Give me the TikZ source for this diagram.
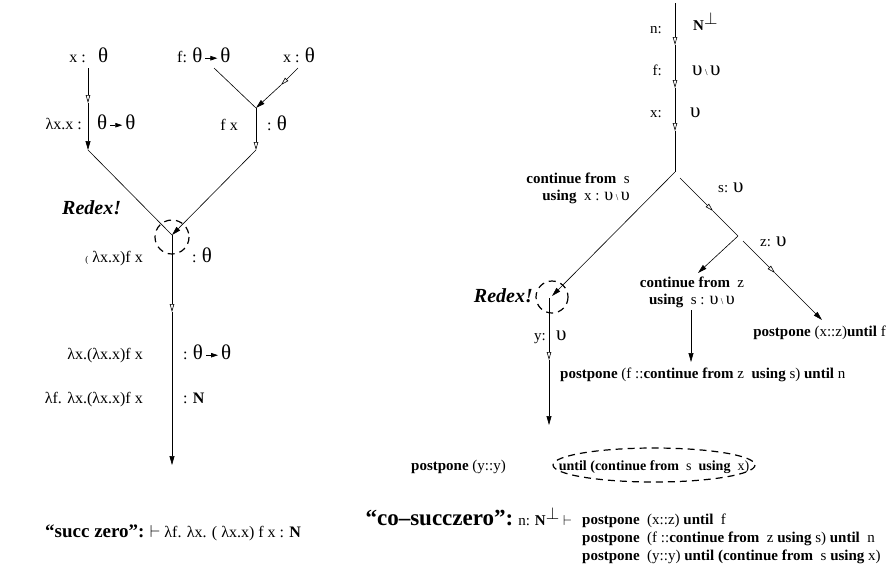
\documentclass[tikz,border=0pt]{standalone}
\usepackage{fontspec}
\setmainfont{Liberation Serif}
\usetikzlibrary{arrows.meta}
\newcommand{\bth}{{\fontsize{21}{21}\selectfont θ}}
\newcommand{\bup}{{\fontsize{21}{21}\selectfont υ}}
\newcommand{\mup}{{\fontsize{18}{16}\selectfont υ}}
\newcommand{\tarr}{\tikz[baseline=-3.8pt]\draw[line width=0.7pt,-{Triangle[length=7pt,width=4.5pt]}](0pt,0pt)--(12pt,0pt);}
\newcommand{\thto}{\bth\,\tarr\,\bth}
\newcommand{\uu}{\bup\,{\small\textbackslash}\,\bup}
\newcommand{\muu}{\mup\,{\small\textbackslash}\,\mup}
\newcommand{\Nperp}{\textbf{N}\raisebox{6pt}{\fontsize{18}{18}\selectfont$\perp$}}
\begin{document}
\begin{tikzpicture}[x=1pt,y=-1pt,
  every node/.style={inner sep=0pt, font=\fontsize{15}{18}\selectfont},
  lft/.style={font=\fontsize{16}{18}\selectfont},
  elt/.style={font=\fontsize{14}{16}\selectfont},
  two/.style={font=\fontsize{15}{17}\selectfont},
  redex/.style={font=\fontsize{20}{20}\selectfont\bfseries\itshape},
  ln/.style={line width=0.6pt},
  ot/.style={-{Triangle[open,length=8pt,width=4.5pt]}},
  ft/.style={-{Triangle[length=9pt,width=5pt]}},
  dsh/.style={line width=1.2pt, dash pattern=on 7pt off 5pt}]
\useasboundingbox (0,0) rectangle (890,579);
% ---------------- left tree ----------------
\node[lft,anchor=base east] (lx) at (86,62) {x :};
\node[lft,anchor=base west] (lxt) at (98,62) {\bth};
\node[lft,anchor=base east] (lid) at (82,129) {λx.x :};
\node[lft,anchor=base west] (lidt) at (97,129) {\thto};
\node[lft,anchor=base west] (lf) at (177,62) {f: \thto};
\node[lft,anchor=base west] (lx2) at (283,62) {x : \bth};
\node[lft,anchor=base east] (lfx) at (238,130) {f x};
\node[lft,anchor=base west] (lfxt) at (267,130) {: \bth};
\node[redex,anchor=base west] (lred) at (62,214) {Redex!};
\node[lft,anchor=base east] (lapp) at (143,262) {{\small(} λx.x)f x};
\node[lft,anchor=base west] (lappt) at (192,262) {: \bth};
\node[lft,anchor=base east] (labs) at (143,359) {λx.(λx.x)f x};
\node[lft,anchor=base west] (labst) at (183,359) {: \thto};
\node[lft,anchor=base east] (labs2) at (143,403) {λf. λx.(λx.x)f x};
\node[lft,anchor=base west] (labs2t) at (183,403) {: \textbf{N}};
\node[lft,anchor=base west] (lsz) at (45,537) {{\fontsize{19}{19}\selectfont\bfseries ``succ zero'':} $\vdash$ λf. λx. ( λx.x) f x : \textbf{N}};
\coordinate (a1) at (88,68);
\coordinate (a2) at (88,103);
\coordinate (a3) at (88,150);
\coordinate (j1) at (172,235);
\coordinate (b1) at (214,68);
\coordinate (c1) at (298,68);
\coordinate (c2) at (281,85);
\coordinate (b2) at (256,108);
\coordinate (b3) at (256,150);
\coordinate (d2) at (172,312);
\coordinate (d3) at (172,465);
\draw[ln,ot] (a1) -- (a2);
\draw[ln,ft] (a2) -- (a3);
\draw[ln] (a3) -- (j1);
\draw[ln] (b1) -- (b2);
\draw[ln,ot] (c1) -- (c2);
\draw[ln,ft] (c2) -- (b2);
\draw[ln,ot] (b2) -- (b3);
\draw[ln,ft] (b3) -- (j1);
\draw[ln,ot] (j1) -- (d2);
\draw[ln,ft] (d2) -- (d3);
\draw[dsh] (172,237) circle (17);
% ---------------- right tree ----------------
\node[anchor=base east] (rn) at (662,33) {n:};
\node[anchor=base west] (rnt) at (693,30) {\Nperp};
\node[anchor=base east] (rf) at (662,75) {f:};
\node[anchor=base west] (rft) at (692,75) {\uu};
\node[anchor=base east] (rx) at (662,117) {x:};
\node[anchor=base west] (rxt) at (690,117) {\bup};
\node[two,anchor=base east, align=right] (rcs) at (630,200) {\textbf{continue from}\ \ s\\\textbf{using}\ \ x : \muu};
\node[anchor=base west] (rs) at (718,192) {s: \bup};
\node[anchor=base west] (rz) at (760,246) {z: \bup};
\node[two,anchor=base, align=center] (rcz) at (692,304) {\textbf{continue from}\ \ z\\\textbf{using}\ \ s : \muu};
\node[anchor=base east] (rpx) at (886,336) {\textbf{postpone} (x::z)\textbf{until} f};
\node[redex,anchor=base east] (rred) at (533,302) {Redex!};
\node[anchor=base east] (ry) at (546,340) {y:};
\node[anchor=base west] (ryt) at (556,340) {\bup};
\node[anchor=base west] (rpf) at (560,378) {\textbf{postpone} (f ::\textbf{continue from} z\ \ \textbf{using} s) \textbf{until} n};
\node[anchor=base east] (rpy) at (506,470) {\textbf{postpone} (y::y)};
\node[elt,anchor=base] (run) at (654,470) {\textbf{until (continue from}\ \ s\ \ \textbf{using}\ \ x)};
\node[anchor=base east] (rco) at (572,525) {{\fontsize{23}{23}\selectfont\bfseries ``co–succzero'':} n: \Nperp\ $\vdash$};
\node[anchor=base west] (rl1) at (582,524) {\textbf{postpone}\ \ (x::z) \textbf{until}\ \ f};
\node[anchor=base west] (rl2) at (582,542) {\textbf{postpone}\ \ (f ::\textbf{continue from}\ \ z \textbf{using} s) \textbf{until}\ \ n};
\node[anchor=base west] (rl3) at (582,560) {\textbf{postpone}\ \ (y::y) \textbf{until (continue from}\ \ s \textbf{using} x)};
\coordinate (r0) at (675,3);
\coordinate (r1) at (675,45);
\coordinate (r2) at (675,88);
\coordinate (r3) at (675,131);
\coordinate (rj) at (675,172);
\coordinate (rl) at (552,296);
\coordinate (v1) at (549,298);
\coordinate (v2) at (549,360);
\coordinate (v3) at (549,425);
\coordinate (s0) at (680,178);
\coordinate (s1) at (713,211);
\coordinate (s2) at (738,236);
\coordinate (cz) at (698,273);
\coordinate (t0) at (743,241);
\coordinate (t1) at (775,273);
\coordinate (t2) at (822,320);
\coordinate (u0) at (691,310);
\coordinate (u1) at (691,362);
\draw[ln,ot] (r0) -- (r1);
\draw[ln,ot] (r1) -- (r2);
\draw[ln,ot] (r2) -- (r3);
\draw[ln] (r3) -- (rj);
\draw[ln,ft] (rj) -- (rl);
\draw[ln,ot] (v1) -- (v2);
\draw[ln,ft] (v2) -- (v3);
\draw[ln,ot] (s0) -- (s1);
\draw[ln] (s1) -- (s2);
\draw[ln,ft] (s2) -- (cz);
\draw[ln,ot] (t0) -- (t1);
\draw[ln,ft] (t1) -- (t2);
\draw[ln,ft] (u0) -- (u1);
\draw[dsh] (552,297) circle (16);
\draw[dsh] ([yshift=5pt]run.base) ellipse [x radius=101, y radius=17];
\end{tikzpicture}
\end{document}
